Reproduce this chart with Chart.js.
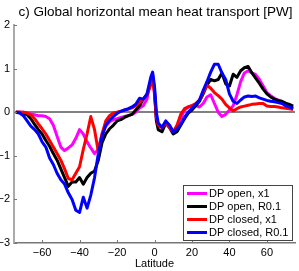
<!DOCTYPE html>
<html>
<head>
<meta charset="utf-8">
<script src="https://cdn.jsdelivr.net/npm/chart.js@4.4.0/dist/chart.umd.min.js"></script>
<style>
  body { margin: 0; background: #fff; }
  canvas { display: block; }
</style>
</head>
<body>
<canvas id="heat" width="299" height="271"></canvas>
<script>
// latitude grid (deg), step 2 with a few extra points at the equator
var lats = [-74,-72,-70,-68,-66,-64,-62,-60,-58,-56,-54,-52,-50,-48,-46,-44,-42,-40,-38,-36,-34,-32,-30,-28,-26,-24,-22,-20,-18,-16,-14,-12,-10,-8,-6,-4,-2,-1,0,1,2,4,6,8,10,12,14,16,18,20,22,24,26,28,30,32,34,36,38,40,42,44,46,48,50,52,54,56,58,60,62,64,66,68,70,72,74];

var openX1 = [0,0,0,-0.02,-0.04,-0.06,-0.08,-0.08,-0.1,-0.15,-0.3,-0.55,-0.8,-0.88,-0.82,-0.75,-0.6,-0.4,-0.5,-0.68,-0.82,-0.95,-0.85,-0.5,-0.32,-0.22,-0.17,-0.15,-0.12,-0.1,-0.08,-0.05,0,0.1,0.15,0.3,0.75,0.87,0.4,-0.15,-0.3,-0.35,-0.22,-0.3,-0.45,-0.35,-0.15,0.05,0.12,0.15,0.15,0.12,0.2,0.35,0.4,0.2,0,-0.1,-0.05,0.05,0.15,0.4,0.7,0.9,0.95,0.9,0.86,0.75,0.6,0.45,0.38,0.32,0.28,0.24,0.2,0.15,0.1];

var openR01 = [0,0,-0.02,-0.06,-0.15,-0.28,-0.4,-0.5,-0.65,-0.78,-0.95,-1.1,-1.3,-1.5,-1.7,-1.6,-1.6,-1.5,-1.65,-1.5,-1.4,-1.35,-1.1,-0.7,-0.5,-0.38,-0.3,-0.2,-0.17,-0.12,-0.08,-0.05,0.05,0.15,0.3,0.4,0.7,0.82,0.5,-0.2,-0.4,-0.45,-0.25,-0.35,-0.5,-0.45,-0.3,-0.15,-0.02,0.05,0.15,0.25,0.42,0.62,0.75,0.72,0.75,0.9,0.65,0.6,0.87,0.8,0.95,1.02,1.05,0.9,0.78,0.66,0.53,0.42,0.35,0.3,0.27,0.25,0.21,0.18,0.14];

var closedX1 = [0,0,0,-0.02,-0.06,-0.15,-0.27,-0.38,-0.5,-0.65,-0.8,-0.95,-1.1,-1.3,-1.52,-1.55,-1.4,-1.25,-0.85,-0.5,-0.1,-0.4,-0.9,-0.5,-0.2,-0.08,-0.02,0,0.02,0.05,0.07,0.1,0.15,0.22,0.3,0.4,0.62,0.8,0.45,-0.1,-0.3,-0.35,-0.25,-0.35,-0.45,-0.3,-0.05,0.08,0.12,0.15,0.2,0.28,0.45,0.62,0.55,0.45,0.38,0.3,0.18,0.1,0.03,0.08,0.12,0.14,0.16,0.18,0.19,0.2,0.2,0.14,0.13,0.13,0.12,0.1,0.09,0.08,0.06];

var closedR01 = [0,-0.02,-0.08,-0.2,-0.32,-0.4,-0.5,-0.68,-0.8,-1.05,-1.2,-1.4,-1.55,-1.65,-1.85,-2,-2.25,-2.3,-1.95,-2.2,-1.9,-1.5,-0.95,-0.55,-0.3,-0.18,-0.1,-0.03,0.02,0.05,0.08,0.12,0.18,0.32,0.3,0.42,0.8,0.92,0.6,0,-0.25,-0.35,-0.2,-0.3,-0.45,-0.38,-0.28,-0.12,0,0.08,0.18,0.28,0.5,0.7,0.92,1.1,1.1,0.9,0.75,0.42,0.25,0.2,0.28,0.35,0.37,0.36,0.37,0.33,0.3,0.27,0.25,0.24,0.22,0.2,0.15,0.12,0.08];

var seriesLabels = ['DP open, x1', 'DP open, R0.1', 'DP closed, x1', 'DP closed, R0.1'];
var seriesColors = ['#ff00ff', '#000000', '#ff0000', '#0000ff'];
var xTicks = [-60, -40, -20, 0, 20, 40, 60];
var yTicks = [-3, -2, -1, 0, 1, 2];

var FONT = 'Arial, "Liberation Sans", sans-serif';

function pts(vals) {
    return vals.map(function (v, i) { return { x: lats[i], y: v }; });
}

function fmt(v) {
    return v < 0 ? '\u2212' + Math.abs(v) : String(v);
}

var allSeries = [openX1, openR01, closedX1, closedR01];
var datasets = allSeries.map(function (vals, i) {
    return {
        label: seriesLabels[i],
        data: pts(vals),
        borderColor: seriesColors[i],
        borderWidth: 3,
        pointRadius: 0,
        tension: 0,
        borderJoinStyle: 'round',
        fill: false,
        order: 4 - i
    };
});

// title, inward tick marks and boxed legend
var extras = {
    id: 'extras',
    afterDraw: function (chart) {
        var ctx = chart.ctx;
        var area = chart.chartArea;
        var xs = chart.scales.x, ys = chart.scales.y;
        ctx.save();
        ctx.fillStyle = '#000';
        ctx.font = '13.5px ' + FONT;
        ctx.textAlign = 'center';
        ctx.textBaseline = 'middle';
        ctx.fillText('c) Global horizontal mean heat transport [PW]', (area.left + area.right) / 2 + 1, 12);

        ctx.strokeStyle = '#777';
        ctx.lineWidth = 1;
        xTicks.forEach(function (v) {
            var px = Math.round(xs.getPixelForValue(v)) + 0.5;
            ctx.beginPath();
            ctx.moveTo(px, area.bottom);
            ctx.lineTo(px, area.bottom - 3);
            ctx.stroke();
        });
        yTicks.forEach(function (v) {
            var py = Math.round(ys.getPixelForValue(v)) + 0.5;
            ctx.beginPath();
            ctx.moveTo(area.left, py);
            ctx.lineTo(area.left + 3, py);
            ctx.stroke();
        });

        // legend
        var bx = 183.5, by = 185.5, bw = 109, bh = 55;
        ctx.fillStyle = '#fff';
        ctx.fillRect(bx, by, bw, bh);
        ctx.strokeStyle = '#444';
        ctx.strokeRect(bx, by, bw, bh);
        ctx.font = '11px ' + FONT;
        ctx.textAlign = 'left';
        chart.data.datasets.forEach(function (ds, i) {
            var yy = 193.5 + i * 13;
            ctx.strokeStyle = ds.borderColor;
            ctx.lineWidth = 3;
            ctx.beginPath();
            ctx.moveTo(187, yy);
            ctx.lineTo(207, yy);
            ctx.stroke();
            ctx.fillStyle = '#000';
            ctx.fillText(ds.label, 209, yy);
        });
        ctx.restore();
    }
};

var ctx = document.getElementById('heat').getContext('2d');
var myChart = new Chart(ctx, {
    type: 'line',
    data: { datasets: datasets },
    plugins: [extras],
    options: {
        responsive: false,
        animation: false,
        layout: { padding: { top: 25, right: 4, left: 0, bottom: 0 } },
        plugins: {
            legend: { display: false },
            tooltip: { enabled: false },
            title: { display: false }
        },
        scales: {
            x: {
                type: 'linear',
                min: -75,
                max: 75,
                afterBuildTicks: function (s) { s.ticks = xTicks.map(function (v) { return { value: v }; }); },
                afterFit: function (s) { s.height = 28; },
                grid: { drawOnChartArea: false, drawTicks: false },
                border: { color: '#777', width: 1.5 },
                ticks: {
                    padding: 3,
                    color: '#000',
                    font: { size: 11, family: FONT },
                    maxRotation: 0,
                    callback: function (v) { return fmt(v); }
                },
                title: {
                    display: true,
                    text: 'Latitude',
                    color: '#000',
                    font: { size: 11, family: FONT },
                    padding: { top: 0, bottom: 0 }
                }
            },
            y: {
                min: -3,
                max: 2,
                afterBuildTicks: function (s) { s.ticks = yTicks.map(function (v) { return { value: v }; }); },
                afterFit: function (s) { s.width = 14; },
                grid: {
                    drawTicks: false,
                    color: function (c) { return c.tick && c.tick.value === 0 ? '#808080' : 'rgba(0,0,0,0)'; },
                    lineWidth: 2
                },
                border: { color: '#aaa', width: 2 },
                ticks: {
                    padding: 4,
                    color: '#000',
                    font: { size: 11, family: FONT },
                    callback: function (v) { return fmt(v); }
                }
            }
        }
    }
});
</script>
</body>
</html>
